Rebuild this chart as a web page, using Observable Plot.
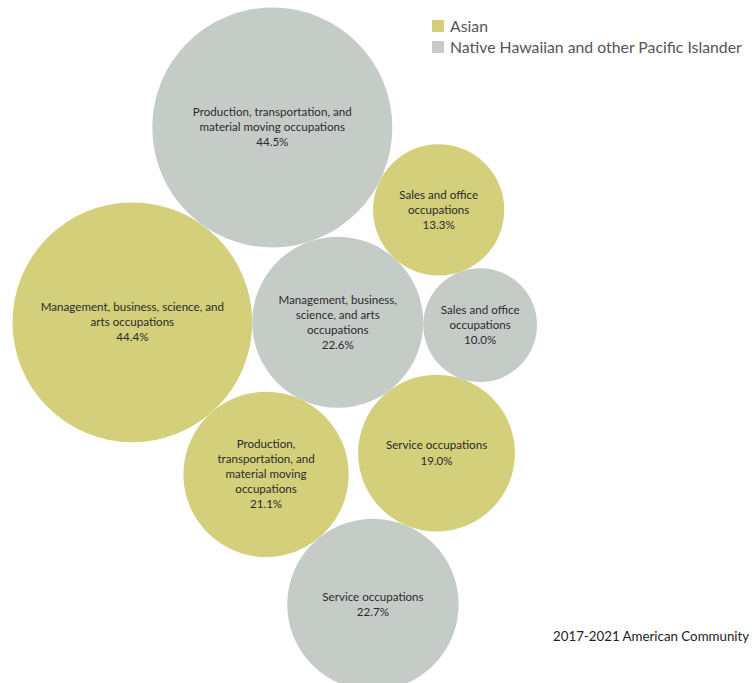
<!DOCTYPE html>
<html><head><meta charset="utf-8">
<script src="https://cdn.jsdelivr.net/npm/d3@7"></script>
<script src="https://cdn.jsdelivr.net/npm/@observablehq/plot@0.6"></script>
<style>
html,body{margin:0;padding:0;background:#fff;overflow:hidden;}
#wrap{position:relative;width:752px;height:683px;overflow:hidden;font-family:Lato,"Open Sans",sans-serif;}
#chart{position:absolute;left:0;top:0;}
#legend{position:absolute;left:432px;top:15px;font-size:15.8px;color:#555;}
.row{display:flex;align-items:center;height:21px;white-space:nowrap;}
.sw{width:12px;height:12px;margin-right:6px;flex:none;}
#caption{position:absolute;left:553px;top:628px;font-size:13.3px;color:#222;white-space:nowrap;}
</style></head><body>
<div id="wrap"><div id="chart"></div><div id="legend"></div><div id="caption"></div></div>
<script>
// ---- data ----
const groups = ["Asian", "Native Hawaiian and other Pacific Islander"];
const groupColors = ["#d4cf7b", "#c5ccc8"];
const occupations = ["Management", "Service", "Sales", "Production"];
const asianValues = [44.4, 19.0, 13.3, 21.1];
const nhpiValues = [22.6, 22.7, 10.0, 44.5];
const asianLabels = [
  "Management, business, science, and\narts occupations",
  "Service occupations",
  "Sales and office\noccupations",
  "Production,\ntransportation, and\nmaterial moving\noccupations"
];
const nhpiLabels = [
  "Management, business,\nscience, and arts\noccupations",
  "Service occupations",
  "Sales and office\noccupations",
  "Production, transportation, and\nmaterial moving occupations"
];
const captionText = "2017-2021 American Community";

// ---- nodes ----
const nodes = [];
occupations.forEach((o, i) => nodes.push({group: groups[0], occupation: o, value: asianValues[i], label: asianLabels[i]}));
occupations.forEach((o, i) => nodes.push({group: groups[1], occupation: o, value: nhpiValues[i], label: nhpiLabels[i]}));
const nodeIndex = (g, o) => nodes.findIndex(n => n.group === groups[g] && n.occupation === o);

// ---- packed-bubble layout (front-chain tangency order) ----
const maxV = d3.max(nodes, d => d.value);
const maxR = 120;
const rs = d3.scaleSqrt().domain([0, maxV]).range([0, maxR]);
nodes.forEach(n => n.r = rs(n.value));

function place(a, b, c) {
  const dx = b.x - a.x, dy = b.y - a.y, d = Math.hypot(dx, dy);
  const A = a.r + c.r, B = b.r + c.r;
  const along = (d * d + A * A - B * B) / (2 * d);
  const h = Math.sqrt(Math.max(0, A * A - along * along));
  const ux = dx / d, uy = dy / d;
  c.x = a.x + ux * along + uy * h;
  c.y = a.y + uy * along - ux * h;
}
const seed = nodes[nodeIndex(1, "Management")];
seed.x = 0; seed.y = 0;
const second = nodes[nodeIndex(0, "Management")];
second.x = -(seed.r + second.r); second.y = 0;
const packOrder = [
  [[1, "Production"], [0, "Management"], [1, "Management"]],
  [[0, "Sales"], [1, "Production"], [1, "Management"]],
  [[1, "Sales"], [0, "Sales"], [1, "Management"]],
  [[0, "Service"], [1, "Sales"], [1, "Management"]],
  [[0, "Production"], [1, "Management"], [0, "Management"]],
  [[1, "Service"], [0, "Service"], [0, "Production"]]
];
for (const [c, a, b] of packOrder) place(nodes[nodeIndex(...a)], nodes[nodeIndex(...b)], nodes[nodeIndex(...c)]);

const minX = d3.min(nodes, d => d.x - d.r), maxX = d3.max(nodes, d => d.x + d.r);
const minY = d3.min(nodes, d => d.y - d.r), maxY = d3.max(nodes, d => d.y + d.r);
const padLeft = 12, padTop = 7;

const chart = Plot.plot({
  width: 752,
  height: Math.ceil(padTop + (maxY - minY) + 4),
  margin: 0,
  style: {fontFamily: "Lato, 'Open Sans', sans-serif", background: "transparent"},
  x: {domain: [minX, maxX], range: [padLeft, padLeft + (maxX - minX)], axis: null},
  y: {domain: [minY, maxY], range: [padTop, padTop + (maxY - minY)], axis: null},
  r: {type: "sqrt", domain: [0, maxV], range: [0, maxR]},
  color: {domain: groups, range: groupColors},
  marks: [
    Plot.dot(nodes, {x: "x", y: "y", r: "value", fill: "group", stroke: null}),
    Plot.text(nodes, {
      x: "x", y: "y",
      text: d => d.label + "\n" + d.value.toFixed(1) + "%",
      fontSize: 11.6, lineHeight: 1.3, fill: "#2b2b2b", textAnchor: "middle", dy: -1
    })
  ]
});
document.getElementById("chart").append(chart);

const legend = document.getElementById("legend");
groups.forEach((g, i) => {
  const row = document.createElement("div"); row.className = "row";
  const sw = document.createElement("div"); sw.className = "sw"; sw.style.background = groupColors[i];
  const t = document.createElement("span"); t.textContent = g;
  row.append(sw, t); legend.append(row);
});
document.getElementById("caption").textContent = captionText;
</script>
</body></html>
